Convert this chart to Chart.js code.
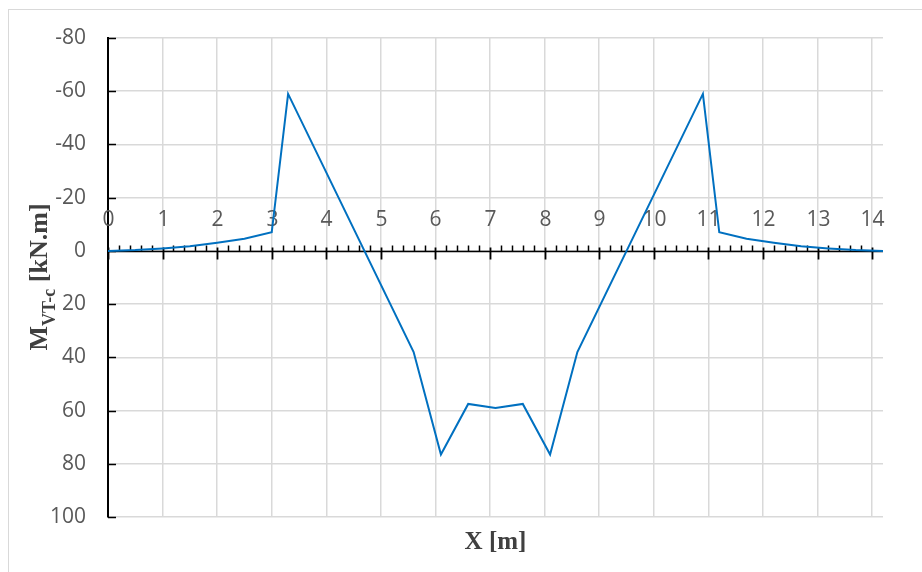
<!DOCTYPE html>
<html>
<head>
<meta charset="utf-8">
<script src="https://cdn.jsdelivr.net/npm/chart.js@4/dist/chart.umd.min.js"></script>
<style>
  html, body { margin: 0; padding: 0; background: #fff; }
  canvas { display: block; }
</style>
</head>
<body>
<canvas id="c" width="922" height="572"></canvas>
<script>
// bending moment along the beam (sagging positive, axis drawn reversed)
const xPos = [0, 0.5, 1, 1.5, 2, 2.5, 3, 3.3, 5.6, 6.1, 6.6, 7.1, 7.6, 8.1, 8.6,
  10.9, 11.2, 11.7, 12.2, 12.7, 13.2, 13.7, 14.2];
const moment = [0, -0.3, -0.9, -1.7, -3.1, -4.6, -7, -59, 38, 76.5, 57.5, 59, 57.5, 76.5, 38,
  -59, -7, -4.6, -3.1, -1.7, -0.9, -0.3, 0];
const xTicks = [0, 1, 2, 3, 4, 5, 6, 7, 8, 9, 10, 11, 12, 13, 14];
const yTicks = [-80, -60, -40, -20, 0, 20, 40, 60, 80, 100];

const TICK_FONT = "21px 'Open Sans'";
const TICK_COLOR = "#595959";
const TITLE_COLOR = "#404040";

// axis at M = 0 with labels above it, plus inward ticks and the titles
const axisPlugin = {
  id: "excelAxis",
  beforeDraw(chart) {
    const { ctx } = chart;
    ctx.save();
    ctx.strokeStyle = "#d9d9d9";
    ctx.lineWidth = 1;
    ctx.strokeRect(8.5, 9.5, 1000, 1000);
    ctx.restore();
  },
  beforeDatasetsDraw(chart) {
    const { ctx, chartArea: ca, scales: { x, y } } = chart;
    const y0 = Math.round(y.getPixelForValue(0)) + 0.5;
    ctx.save();
    ctx.strokeStyle = "#000";
    // y ticks pointing into the plot
    ctx.lineWidth = 1.5;
    yTicks.forEach(v => {
      const py = Math.round(y.getPixelForValue(v)) + 0.5;
      ctx.beginPath(); ctx.moveTo(ca.left, py); ctx.lineTo(ca.left + 8, py); ctx.stroke();
    });
    // horizontal axis
    ctx.beginPath(); ctx.moveTo(ca.left, y0); ctx.lineTo(ca.right, y0); ctx.stroke();
    // minor ticks every 0.2 m
    ctx.lineWidth = 1.5;
    for (let i = 1; i < 72; i++) {
      if (i % 5 === 0) continue;
      const px = Math.round(x.getPixelForValue(i / 5)) + 0.5;
      if (px > ca.right) break;
      ctx.beginPath(); ctx.moveTo(px, y0 - 6); ctx.lineTo(px, y0); ctx.stroke();
    }
    ctx.lineWidth = 1.8;
    ctx.font = TICK_FONT;
    ctx.fillStyle = TICK_COLOR;
    ctx.textAlign = "center";
    ctx.textBaseline = "middle";
    xTicks.forEach(v => {
      const px = Math.round(x.getPixelForValue(v)) + 0.5;
      ctx.beginPath(); ctx.moveTo(px, y0 - 4); ctx.lineTo(px, y0 + 8); ctx.stroke();
      ctx.fillText(String(v), px, y0 - 31);
    });

    // x title
    ctx.fillStyle = TITLE_COLOR;
    ctx.font = "bold 25px 'Liberation Serif'";
    ctx.textBaseline = "alphabetic";
    ctx.fillText("X [m]", (ca.left + ca.right) / 2, 549);

    // y title with subscript, rotated
    ctx.translate(47, 277);
    ctx.rotate(-Math.PI / 2);
    ctx.textAlign = "left";
    const big = "bold 26px 'Liberation Serif'", small = "bold 18px 'Liberation Serif'";
    ctx.font = big; const w1 = ctx.measureText("M").width;
    ctx.font = small; const w2 = ctx.measureText("VT-c").width;
    ctx.font = big; const w3 = ctx.measureText(" [kN.m]").width;
    let tx = -(w1 + w2 + w3) / 2;
    ctx.fillText("M", tx, 0); tx += w1;
    ctx.font = small; ctx.fillText("VT-c", tx, 8); tx += w2;
    ctx.font = big; ctx.fillText(" [kN.m]", tx, 0);
    ctx.restore();
  },
};

new Chart(document.getElementById("c"), {
  type: "scatter",
  data: {
    datasets: [{
      data: xPos.map((v, i) => ({ x: v, y: moment[i] })),
      showLine: true,
      borderColor: "#0070C0",
      borderWidth: 2,
      pointRadius: 0,
      tension: 0,
    }],
  },
  options: {
    responsive: false,
    animation: false,
    layout: { padding: { left: 0, top: 38, right: 39, bottom: 0 } },
    plugins: { legend: { display: false }, tooltip: { enabled: false } },
    scales: {
      x: {
        type: "linear", min: 0, max: 14.2,
        ticks: { display: false, stepSize: 1, includeBounds: false },
        grid: { color: "#d9d9d9", lineWidth: 1.5, drawTicks: false },
        border: { display: false },
        afterFit: s => { s.height = 55; },
      },
      y: {
        reverse: true, min: -80, max: 100,
        ticks: {
          stepSize: 20, padding: 22, color: TICK_COLOR,
          font: { family: "Open Sans", size: 21 },
        },
        grid: { color: "#d9d9d9", lineWidth: 1.5, drawTicks: false },
        border: { color: "#000", width: 2 },
        afterFit: s => { s.width = 108; },
      },
    },
  },
  plugins: [axisPlugin],
});
</script>
</body>
</html>
